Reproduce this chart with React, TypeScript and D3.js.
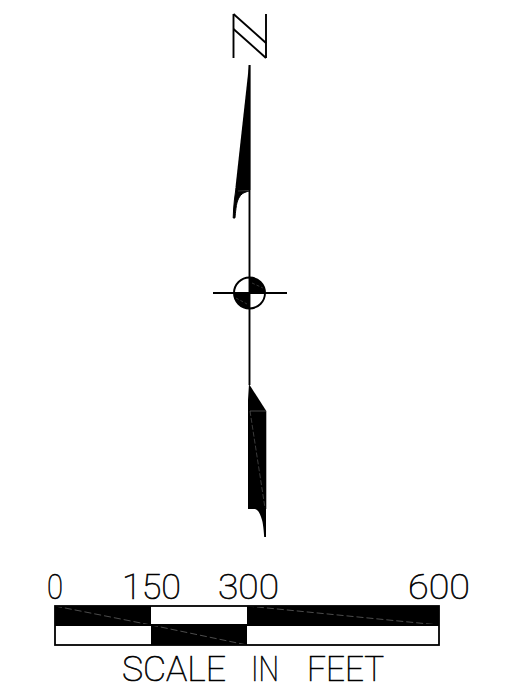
import React from "react";
import * as d3 from "d3";

const scaleTicks = [0, 150, 300, 600];
const tickLeft = [47, 122, 218, 408];
const tickWidth = [16, 59, 61, 62];
const topRowFill = [true, false, true];
const bottomRowFill = [false, true, false];
const titleWords = ["SCALE", "IN", "FEET"];
const titleStarts = [122, 251, 307];
const titleWidths = [104, 28, 77];
const northLabel = "N";

const upperNeedle: [number, number][] = [[249, 65], [250.3, 65], [250.3, 190], [236, 190], [235.5, 187]];
const upperTail: [number, number][] = [[236, 188], [234.4, 200], [233.6, 209], [233.2, 218]];
const upperInner: [number, number][] = [[249, 191], [242, 194], [237.5, 201], [235, 218]];
const lowerNeedle: [number, number][] = [[249, 384], [266.3, 411], [266.3, 509], [248, 509], [248, 400]];
const lowerTail: [number, number][] = [[249, 508], [257, 510], [262, 520], [264.2, 537]];

const x = d3.scaleLinear().domain([0, 600]).range([55, 439]);
const y = d3.scalePoint<string>().domain(["top", "mid", "bottom"]).range([606, 645]);
const smooth = d3.line().curve(d3.curveCatmullRom);
const straight = d3.line();

export default function App() {
  const spans = d3.pairs(scaleTicks);
  const yTop = y("top")!, yMid = 625, yBot = y("bottom")!;
  return (
    <svg width={513} height={700} style={{ position: "absolute", left: 0, top: 0, background: "#fff" }}>
      {/* N */}
      <g stroke="#000" strokeWidth={1.9} fill="none">
        <path d={straight([[233.5, 14], [233.5, 58]])!} />
        <path d={straight([[266, 14], [266, 58]])!} />
        <path d={straight([[233.5, 14], [266, 43]])!} />
        <path d={straight([[233.5, 29], [266, 58]])!} />
      </g>
      <text x={250} y={58} fontSize={1} fill="none" aria-label={northLabel}>{northLabel}</text>

      {/* upper needle */}
      <path d={straight(upperNeedle)! + "Z"} fill="#000" />
      <path d={smooth(upperInner)! + "L" + upperTail.slice().reverse().map(p => p.join(",")).join("L") + "Z"} fill="#000" stroke="#000" strokeWidth={1} />
      <path d={straight([[238, 191], [249, 190.5]])!} stroke="#555" strokeWidth={0.6} />
      <path d={straight([[249.5, 65], [249.5, 385]])!} stroke="#000" strokeWidth={1.9} />

      {/* centre symbol */}
      <path d={d3.arc()({ innerRadius: 0, outerRadius: 15.5, startAngle: 0, endAngle: Math.PI / 2 })!} transform="translate(249.5,293)" fill="#000" />
      <path d={d3.arc()({ innerRadius: 0, outerRadius: 15.5, startAngle: Math.PI, endAngle: Math.PI * 1.5 })!} transform="translate(249.5,293)" fill="#000" />
      <path d={straight([[252, 283], [263, 288]])!} stroke="#666" strokeWidth={0.5} strokeDasharray="3 2" />
      <path d={straight([[236, 298], [247, 304]])!} stroke="#666" strokeWidth={0.5} strokeDasharray="3 2" />
      <circle cx={249.5} cy={293} r={15.5} fill="none" stroke="#000" strokeWidth={1.9} />
      <path d={straight([[213, 293], [287, 293]])!} stroke="#000" strokeWidth={1.9} />

      {/* lower needle */}
      <path d={straight(lowerNeedle)! + "Z"} fill="#000" />
      <path d={smooth(lowerTail)! + "L266,537L266,508Z"} fill="#000" />
      <path d={straight([[250, 411], [266, 411]])!} stroke="#777" strokeWidth={0.6} />
      <path d={straight([[250, 411], [265, 508]])!} stroke="#777" strokeWidth={0.5} strokeDasharray="5 2" />

      {/* scale bar */}
      {spans.map(([a, b], i) => (
        <g key={a}>
          <rect x={x(a)} y={yTop} width={x(b) - x(a)} height={yMid - yTop} fill={topRowFill[i] ? "#000" : "#fff"} />
          <rect x={x(a)} y={yMid} width={x(b) - x(a)} height={yBot - yMid} fill={bottomRowFill[i] ? "#000" : "#fff"} />
          {topRowFill[i] && <path d={straight([[x(a), yTop], [x(b), yMid]])!} stroke="#999" strokeWidth={0.5} strokeDasharray="7 3" />}
          {bottomRowFill[i] && <path d={straight([[x(a), yMid], [x(b), yBot]])!} stroke="#999" strokeWidth={0.5} strokeDasharray="7 3" />}
        </g>
      ))}
      <rect x={x(0)} y={yTop} width={x(600) - x(0)} height={yBot - yTop} fill="none" stroke="#000" strokeWidth={1.8} />
      <path d={straight([[x(0), yMid], [x(600), yMid]])!} stroke="#000" strokeWidth={1.8} />

      <g fontFamily="Roboto" fontWeight={100} fontSize={35} fill="#000" stroke="#000" strokeWidth={0.6} opacity={0.999}>
        {scaleTicks.map((t, i) => (
          <text key={t} x={tickLeft[i]} y={599} textLength={tickWidth[i]} lengthAdjust="spacingAndGlyphs">{t}</text>
        ))}
        {titleWords.map((word, i) => (
          <text key={word} x={titleStarts[i]} y={681} textLength={titleWidths[i]} lengthAdjust="spacingAndGlyphs">{word}</text>
        ))}
      </g>
    </svg>
  );
}
